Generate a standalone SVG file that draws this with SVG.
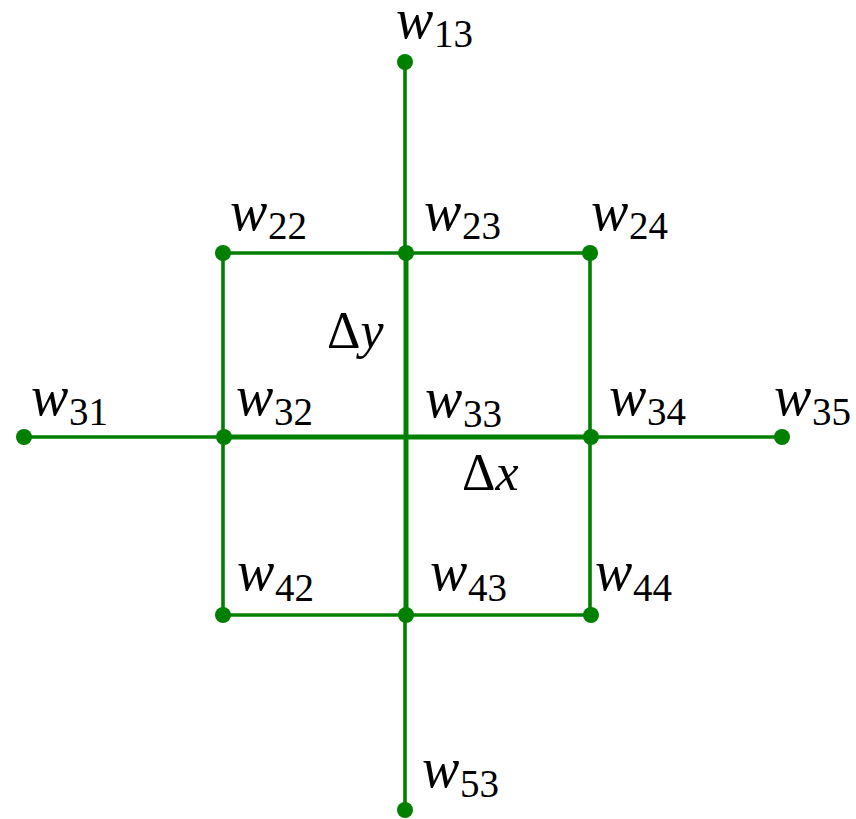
<svg xmlns="http://www.w3.org/2000/svg" width="856" height="819" viewBox="0 0 856 819">
<style>
.e{stroke:#008000;stroke-width:3.6;fill:none}
.t{stroke:#008000;stroke-width:5;fill:none}
.d{fill:#008000}
.w{font-family:"Liberation Serif",serif;font-style:italic;font-size:56px;fill:#000}
.s{font-family:"Liberation Serif",serif;font-size:39px;fill:#000}
.g{font-family:"Liberation Serif",serif;font-size:52px;fill:#000}
</style>
<rect width="856" height="819" fill="#fff"/>
<g id="connectors">
<line class="e" x1="405" y1="62" x2="405" y2="253"/>
<line class="e" x1="405" y1="615" x2="405" y2="810"/>
<line class="t" x1="406" y1="253" x2="406" y2="615"/>
<line class="e" x1="223" y1="253" x2="590" y2="253"/>
<line class="e" x1="223" y1="615" x2="591" y2="615"/>
<line class="e" x1="223" y1="253" x2="223" y2="615"/>
<line class="e" x1="590" y1="253" x2="590" y2="615"/>
<line class="e" x1="24" y1="437" x2="224" y2="437"/>
<line class="t" x1="224" y1="437" x2="591" y2="437"/>
<line class="e" x1="591" y1="437" x2="782" y2="437"/>
</g>
<g id="w13"><circle class="d" cx="405" cy="62" r="8"/><text class="w" x="396" y="38">w</text><text class="s" x="434" y="47">13</text></g>
<g id="w22"><circle class="d" cx="223" cy="253" r="8"/><text class="w" x="230" y="230">w</text><text class="s" x="268" y="239">22</text></g>
<g id="w23"><circle class="d" cx="406" cy="253" r="8"/><text class="w" x="424" y="230">w</text><text class="s" x="462" y="239">23</text></g>
<g id="w24"><circle class="d" cx="590" cy="253" r="8"/><text class="w" x="591" y="230">w</text><text class="s" x="629" y="239">24</text></g>
<g id="w31"><circle class="d" cx="24" cy="437" r="8"/><text class="w" x="31" y="415">w</text><text class="s" x="69" y="425">31</text></g>
<g id="w32"><circle class="d" cx="224" cy="437" r="8"/><text class="w" x="236" y="415">w</text><text class="s" x="274" y="425">32</text></g>
<g id="w33"><text class="w" x="425" y="417">w</text><text class="s" x="463" y="427">33</text></g>
<g id="w34"><circle class="d" cx="591" cy="437" r="8"/><text class="w" x="609" y="415">w</text><text class="s" x="647" y="425">34</text></g>
<g id="w35"><circle class="d" cx="782" cy="437" r="8"/><text class="w" x="774" y="415">w</text><text class="s" x="812" y="425">35</text></g>
<g id="w42"><circle class="d" cx="223" cy="615" r="8"/><text class="w" x="237" y="590">w</text><text class="s" x="275" y="601">42</text></g>
<g id="w43"><circle class="d" cx="406" cy="615" r="8"/><text class="w" x="430" y="590">w</text><text class="s" x="468" y="601">43</text></g>
<g id="w44"><circle class="d" cx="591" cy="615" r="8"/><text class="w" x="595" y="590">w</text><text class="s" x="633" y="601">44</text></g>
<g id="w53"><circle class="d" cx="405" cy="810" r="8"/><text class="w" x="422" y="787">w</text><text class="s" x="460" y="797">53</text></g>
<g id="dy"><text class="g" x="327" y="348">Δ<tspan font-style="italic">y</tspan></text></g>
<g id="dx"><text class="g" x="462" y="490">Δ<tspan font-style="italic">x</tspan></text></g>
</svg>
